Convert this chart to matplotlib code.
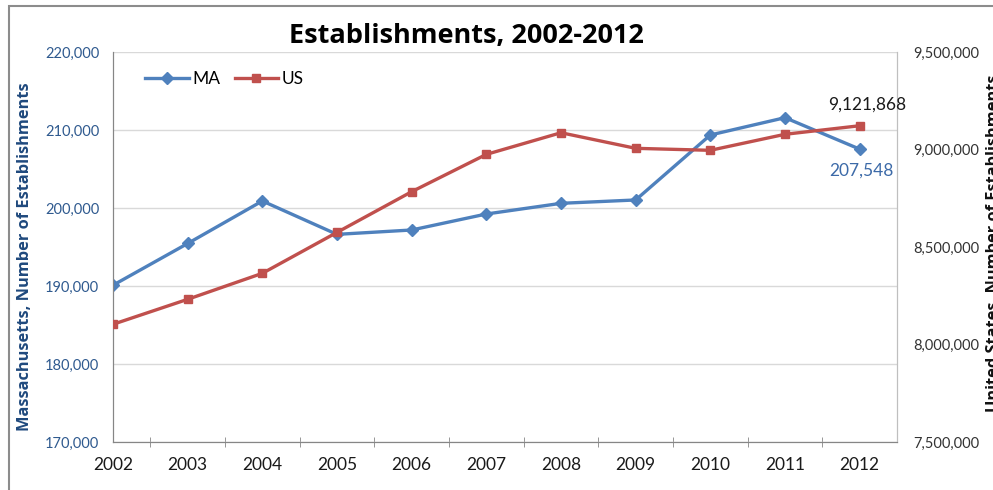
import matplotlib
matplotlib.use('Agg')
import matplotlib.pyplot as plt
from matplotlib.patches import Rectangle
from matplotlib.ticker import FuncFormatter, MultipleLocator

plt.rcParams['font.family'] = ['Lato', 'DejaVu Sans']

# data
years = ['2002', '2003', '2004', '2005', '2006', '2007',
         '2008', '2009', '2010', '2011', '2012']
ma = [190100, 195450, 200900, 196620, 197180, 199230,
      200600, 201030, 209360, 211580, 207548]
us = [8103600, 8231800, 8365000, 8575000, 8783600, 8975000,
      9086000, 9006000, 8995800, 9078000, 9121868]

ma_color = '#4F81BD'
us_color = '#C0504D'
left_tick_color = '#2F5A8F'
left_label_color = '#1F497D'

fig = plt.figure(figsize=(9.93, 4.9), dpi=100)
ax = fig.add_axes([113 / 993, 1 - 442 / 490, 784 / 993, 390 / 490])
ax2 = ax.twinx()

x = list(range(len(years)))

l1, = ax.plot(x, ma, color=ma_color, lw=2.4, marker='D', ms=6,
              label='MA', zorder=3)
l2, = ax2.plot(x, us, color=us_color, lw=2.4, marker='s', ms=6,
               label='US', zorder=3)

# left axis
ax.set_ylim(170000, 220000)
ax.yaxis.set_major_locator(MultipleLocator(10000))
ax.yaxis.set_major_formatter(FuncFormatter(lambda v, p: f'{int(v):,}'))
ax.grid(axis='y', color='#d9d9d9', lw=1)
ax.set_axisbelow(True)
ax.tick_params(axis='y', length=0, pad=10, labelsize=10.5,
               labelcolor=left_tick_color)

# category axis
ax.set_xlim(0, 10.5)
ax.set_xticks(x)
ax.set_xticklabels(years)
ax.set_xticks([i + 0.5 for i in range(10)], minor=True)
ax.tick_params(axis='x', which='major', length=0, pad=11, labelsize=12.5,
               labelcolor='#1a1a1a')
ax.tick_params(axis='x', which='minor', length=7, direction='inout',
               color='#868686')

# right axis
ax2.set_ylim(7500000, 9500000)
ax2.yaxis.set_major_locator(MultipleLocator(500000))
ax2.yaxis.set_major_formatter(FuncFormatter(lambda v, p: f'{int(v):,}'))
ax2.tick_params(axis='y', length=0, pad=12, labelsize=10.5,
                labelcolor='#333333')

for a in (ax, ax2):
    a.spines['top'].set_visible(False)
    a.spines['left'].set_color('#868686')
    a.spines['bottom'].set_color('#868686')
    a.spines['right'].set_color('#bfbfbf')

# end-point labels
ax2.text(x[-1] + 0.1, us[-1] + 110000, f'{us[-1]:,}', ha='center',
         va='center', fontsize=12.5, color='#1a1a1a')
ax.text(x[-1] + 0.02, ma[-1] - 2700, f'{ma[-1]:,}', ha='center',
        va='center', fontsize=12.5, color='#3C6AA8')

ax2.legend([l1, l2], ['MA', 'US'], ncol=2, frameon=False,
           loc='center left', bbox_to_anchor=(0.041, 0.931),
           borderaxespad=0, borderpad=0, handlelength=2.5,
           handletextpad=0.2, columnspacing=0.85, fontsize=12.5)

bold_font = ['Open Sans', 'DejaVu Sans']
fig.text(466 / 993, 1 - 36 / 490, 'Establishments, 2002-2012',
         ha='center', va='center', fontsize=19.5, fontweight='bold',
         family=bold_font)
fig.text(25 / 993, 1 - 257 / 490, 'Massachusetts, Number of Establishments',
         rotation=90, ha='center', va='center', fontsize=11.8,
         fontweight='bold', color=left_label_color, family=bold_font)
fig.text(994 / 993, 1 - 243 / 490, 'United States, Number of Establishments',
         rotation=90, ha='center', va='center', fontsize=11.8,
         fontweight='bold', color='#111111', family=bold_font)

# outer chart border (cut off at right and bottom)
fig.patches.append(Rectangle((9 / 993, -0.1), 1.2, 1.1 - 6.5 / 490,
                             transform=fig.transFigure, fill=False,
                             edgecolor='#8c8c8c', lw=1.5))

fig.savefig('out.png', dpi=100)
